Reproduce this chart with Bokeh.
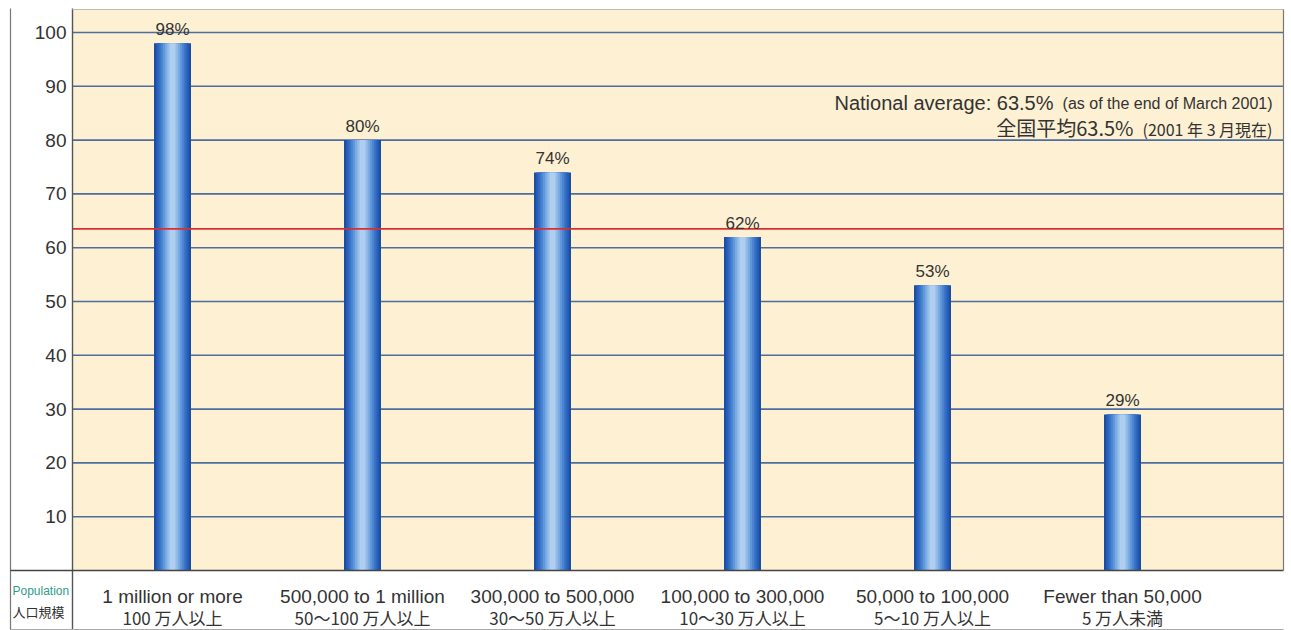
from bokeh.plotting import figure
from bokeh.models import Range1d, ColumnDataSource
from bokeh.core.properties import value
from bokeh.embed import file_html
from bokeh.resources import INLINE

# ---- data ----
categories_en = ["1 million or more", "500,000 to 1 million", "300,000 to 500,000",
                 "100,000 to 300,000", "50,000 to 100,000", "Fewer than 50,000"]
categories_ja = ["100 万人以上", "50～100 万人以上", "30～50 万人以上",
                 "10～30 万人以上", "5～10 万人以上", "5 万人未満"]
rates = [98, 80, 74, 62, 53, 29]
rate_labels = ["98%", "80%", "74%", "62%", "53%", "29%"]
national_average = 63.5
y_ticks = [10, 20, 30, 40, 50, 60, 70, 80, 90, 100]
y_tick_labels = ["10", "20", "30", "40", "50", "60", "70", "80", "90", "100"]
row_header_en = "Population"
row_header_ja = "人口規模"
note_en_main = "National average: 63.5%"
note_en_sub = "(as of the end of March 2001)"
note_ja_main = "全国平均63.5%"
note_ja_sub = "(2001 年 3 月現在)"

# ---- layout (pixel geometry -> data ranges) ----
W, H = 1291, 630
XPX = 190.0          # pixels per category
YPX = 5.38           # pixels per percentage point
x0_px = 172          # px of first category centre
y0_px = 570          # px (from top) of value 0


def dx(px):
    return (px - x0_px) / XPX


def dy(py):
    return (y0_px - py) / YPX


x_start, x_end = dx(0), dx(W)
y_top, y_bottom = dy(0), dy(H)
plot_left, plot_right = dx(72), dx(1283)
plot_top = dy(9)
outer_left = dx(10)

LAT = "Liberation Sans, Noto Sans CJK JP"
CJK = "Noto Sans CJK JP, Liberation Sans"
TXT = "#333333"

p = figure(width=W, height=H, output_backend="svg", toolbar_location=None,
           x_range=Range1d(x_start, x_end), y_range=Range1d(y_bottom, y_top),
           min_border=0, min_border_left=0, min_border_right=0,
           min_border_top=0, min_border_bottom=0)
p.axis.visible = False
p.grid.visible = False
p.outline_line_color = None
p.background_fill_color = "white"
p.border_fill_color = "white"

xs = list(range(len(rates)))

# cream plotting area
p.quad(left=[plot_left], right=[plot_right], bottom=[0], top=[plot_top],
       fill_color="#FDF0D3", line_color=None)

# grid lines
p.segment(x0=[plot_left] * len(y_ticks), x1=[plot_right] * len(y_ticks),
          y0=y_ticks, y1=y_ticks, line_color="#4E6C9C", line_width=1.6)

# y tick labels
p.text(x=[dx(66)] * len(y_ticks), y=y_ticks, text=y_tick_labels,
       text_align="right", text_baseline="middle", text_font=value(LAT),
       text_font_size="19px", text_color=TXT)

# bars with horizontal gradient (layered strips)
bar_w = 37 / XPX
layers = [(1.00, "#1C4FA3"), (0.88, "#285FB8"), (0.76, "#3670C6"),
          (0.64, "#4A84D1"), (0.52, "#6097DB"), (0.40, "#7AABE3"),
          (0.28, "#95BDEA"), (0.16, "#B0CEF0")]
src = ColumnDataSource(dict(x=xs, top=rates, label=rate_labels,
                            ly=[r + 0.8 for r in rates]))
for f, c in layers:
    p.vbar(x="x", top="top", bottom=0, width=bar_w * f, source=src,
           fill_color=c, line_color=None)

# national average line
p.segment(x0=[plot_left], x1=[plot_right], y0=[national_average], y1=[national_average],
          line_color="#D8302E", line_width=1.6)

# value labels
p.text(x="x", y="ly", text="label", source=src, text_align="center",
       text_baseline="bottom", text_font=value(LAT), text_font_size="17px",
       text_color=TXT)

# note text
p.text(x=[dx(1053)], y=[dy(102)], text=[note_en_main], text_align="right",
       text_baseline="middle", text_font=value(LAT), text_font_size="20px",
       text_color=TXT)
p.text(x=[dx(1272)], y=[dy(103)], text=[note_en_sub], text_align="right",
       text_baseline="middle", text_font=value(LAT), text_font_size="16px",
       text_color=TXT)
p.text(x=[dx(1133)], y=[dy(127)], text=[note_ja_main],
       text_align="right", text_baseline="middle", text_font=value(CJK),
       text_font_size="20px", text_color=TXT)
p.text(x=[dx(1272)], y=[dy(128)], text=[note_ja_sub], text_align="right",
       text_baseline="middle", text_font=value(CJK), text_font_size="16px",
       text_color=TXT)

# frame lines
p.segment(x0=[outer_left, plot_left, plot_left, outer_left, plot_right, outer_left],
          x1=[outer_left, plot_left, plot_right, plot_right, plot_right, plot_right],
          y0=[dy(8), dy(8), plot_top, 0, plot_top, dy(629)],
          y1=[y_bottom, y_bottom, plot_top, 0, 0, dy(629)],
          line_color=["#777777", "#555555", "#BBBBBB", "#444444", "#777777", "#AAAAAA"],
          line_width=[1.2, 1.4, 1.0, 1.6, 1.2, 1.0])

# bottom category labels
p.text(x=xs, y=[dy(596)] * len(xs), text=categories_en,
       text_align="center", text_baseline="middle", text_font=value(LAT),
       text_font_size="19px", text_color=TXT)
p.text(x=xs, y=[dy(617)] * len(xs), text=categories_ja,
       text_align="center", text_baseline="middle", text_font=value(CJK),
       text_font_size="17px", text_color=TXT)

# row header
p.text(x=[dx(12)], y=[dy(590)], text=[row_header_en], text_align="left",
       text_baseline="middle", text_font=value("Liberation Sans Narrow, Liberation Sans"),
       text_font_size="12px", text_color="#2E9C8C")
p.text(x=[dx(12)], y=[dy(611)], text=[row_header_ja], text_align="left",
       text_baseline="middle", text_font=value(CJK), text_font_size="13px",
       text_color=TXT)

open("out.html", "w").write(file_html(p, INLINE))
